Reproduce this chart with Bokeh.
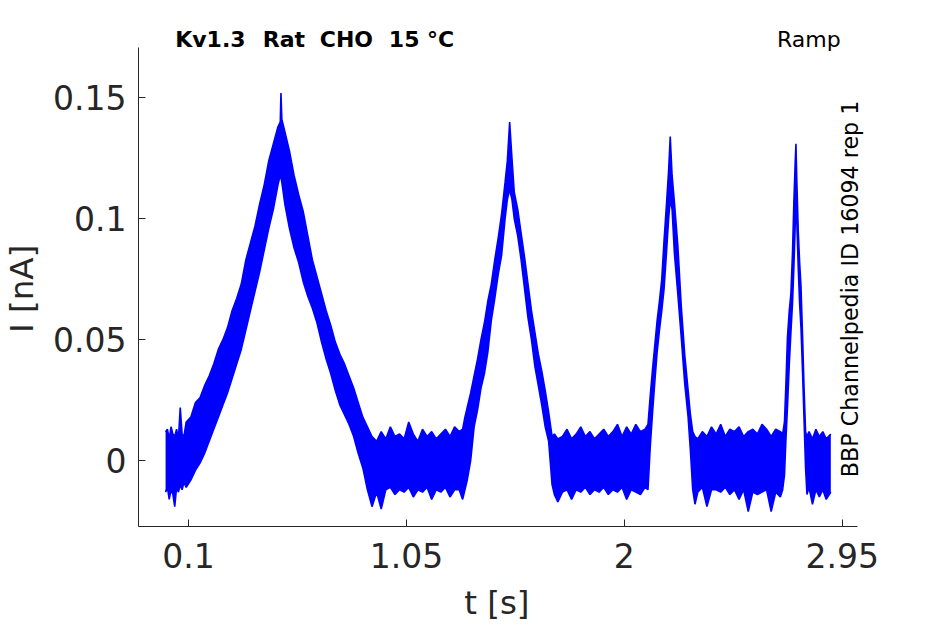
import math
from bokeh.plotting import figure
from bokeh.models import Range1d, Label, FixedTicker, LinearAxis
from bokeh.embed import file_html
from bokeh.resources import INLINE

# ---- data (time in s, current envelope in nA) ----
# baseline before first ramp
tA = [0.000, 0.008, 0.016, 0.024, 0.032, 0.040, 0.048, 0.056, 0.064, 0.072, 0.080]
hiA = [0.012, 0.013, 0.009, 0.014, 0.011, 0.010, 0.013, 0.009, 0.022, 0.011, 0.010]
loA = [-0.013, -0.011, -0.016, -0.012, -0.014, -0.019, -0.011, -0.013, -0.010, -0.012, -0.009]

# ramp 1 (slow)
tB = [0.090, 0.110, 0.130, 0.150, 0.170, 0.190, 0.210, 0.230, 0.250, 0.270, 0.290, 0.310,
      0.330, 0.350, 0.370, 0.390, 0.410, 0.430, 0.450, 0.470, 0.490, 0.500, 0.503, 0.507,
      0.520, 0.540, 0.560, 0.580, 0.600, 0.620, 0.640, 0.660, 0.680, 0.700, 0.720, 0.740,
      0.760, 0.780, 0.800, 0.820, 0.840, 0.860, 0.880]
hiB = [0.016, 0.018, 0.024, 0.026, 0.031, 0.035, 0.040, 0.046, 0.050, 0.055, 0.062, 0.067,
       0.073, 0.083, 0.090, 0.097, 0.106, 0.114, 0.124, 0.131, 0.138, 0.140, 0.152, 0.141,
       0.136, 0.128, 0.118, 0.110, 0.103, 0.093, 0.083, 0.076, 0.069, 0.062, 0.056, 0.049,
       0.044, 0.040, 0.035, 0.030, 0.024, 0.018, 0.014]
loB = [-0.011, -0.008, -0.004, -0.001, 0.003, 0.008, 0.013, 0.018, 0.023, 0.028, 0.034, 0.040,
       0.046, 0.054, 0.062, 0.070, 0.078, 0.087, 0.096, 0.104, 0.114, 0.118, 0.117, 0.115,
       0.106, 0.096, 0.088, 0.082, 0.074, 0.068, 0.063, 0.057, 0.049, 0.042, 0.036, 0.029,
       0.023, 0.019, 0.015, 0.010, 0.003, -0.003, -0.012]

# baseline
tC = [0.900, 0.920, 0.940, 0.960, 0.980, 1.000, 1.020, 1.040, 1.060, 1.080, 1.100,
      1.120, 1.140, 1.160, 1.180, 1.200, 1.220, 1.240, 1.260, 1.280, 1.295]
hiC = [0.010, 0.008, 0.012, 0.009, 0.014, 0.010, 0.011, 0.009, 0.016, 0.011, 0.008,
       0.013, 0.010, 0.012, 0.009, 0.011, 0.013, 0.010, 0.014, 0.012, 0.013]
loC = [-0.019, -0.013, -0.020, -0.012, -0.011, -0.014, -0.012, -0.013, -0.011, -0.015, -0.012,
       -0.013, -0.011, -0.016, -0.012, -0.013, -0.011, -0.015, -0.012, -0.012, -0.016]

# ramp 2
tD = [1.305, 1.315, 1.330, 1.345, 1.360, 1.375, 1.390, 1.405, 1.420, 1.435, 1.450, 1.465,
      1.480, 1.490, 1.500, 1.510, 1.520, 1.535, 1.550, 1.565, 1.580, 1.595, 1.610, 1.625,
      1.640, 1.655, 1.670, 1.685, 1.695]
hiD = [0.018, 0.022, 0.028, 0.035, 0.042, 0.050, 0.057, 0.066, 0.073, 0.083, 0.092, 0.102,
       0.115, 0.124, 0.140, 0.125, 0.111, 0.104, 0.094, 0.084, 0.073, 0.062, 0.053, 0.044,
       0.037, 0.029, 0.020, 0.010, 0.011]
loD = [-0.012, -0.008, 0.000, 0.014, 0.021, 0.030, 0.036, 0.045, 0.058, 0.067, 0.077, 0.085,
       0.100, 0.108, 0.112, 0.108, 0.100, 0.093, 0.083, 0.071, 0.059, 0.050, 0.039, 0.031,
       0.023, 0.014, 0.008, -0.010, -0.014]

# baseline
tE = [1.710, 1.730, 1.750, 1.770, 1.790, 1.810, 1.830, 1.850, 1.870, 1.890,
      1.910, 1.930, 1.950, 1.970, 1.990, 2.010, 2.030, 2.050, 2.070, 2.090]
hiE = [0.009, 0.010, 0.013, 0.009, 0.011, 0.014, 0.010, 0.012, 0.009, 0.011,
       0.013, 0.010, 0.012, 0.015, 0.010, 0.014, 0.011, 0.015, 0.012, 0.013]
loE = [-0.017, -0.013, -0.012, -0.016, -0.012, -0.013, -0.011, -0.014, -0.012, -0.013,
       -0.011, -0.014, -0.012, -0.013, -0.011, -0.016, -0.012, -0.013, -0.014, -0.011]

# ramp 3
tF = [2.103, 2.113, 2.123, 2.133, 2.143, 2.153, 2.163, 2.173, 2.183, 2.193, 2.200,
      2.208, 2.218, 2.233, 2.248, 2.263, 2.278, 2.288, 2.298, 2.308]
hiF = [0.015, 0.027, 0.038, 0.048, 0.058, 0.066, 0.075, 0.091, 0.105, 0.120, 0.134,
       0.118, 0.107, 0.089, 0.064, 0.044, 0.029, 0.019, 0.012, 0.010]
loF = [-0.012, 0.006, 0.020, 0.033, 0.045, 0.054, 0.062, 0.071, 0.085, 0.100, 0.108,
       0.104, 0.086, 0.069, 0.051, 0.032, 0.018, 0.004, -0.012, -0.018]

# baseline
tG = [2.320, 2.340, 2.360, 2.380, 2.400, 2.420, 2.440, 2.460, 2.480, 2.500,
      2.520, 2.540, 2.560, 2.580, 2.600, 2.620, 2.640, 2.660, 2.680]
hiG = [0.009, 0.012, 0.010, 0.014, 0.011, 0.015, 0.010, 0.013, 0.012, 0.014,
       0.010, 0.012, 0.013, 0.011, 0.015, 0.013, 0.010, 0.013, 0.012]
loG = [-0.013, -0.011, -0.019, -0.012, -0.012, -0.013, -0.011, -0.014, -0.012, -0.016,
       -0.012, -0.021, -0.013, -0.014, -0.013, -0.012, -0.021, -0.013, -0.015]

# ramp 4 (fast)
tH = [2.690, 2.698, 2.704, 2.711, 2.719, 2.726, 2.733, 2.739, 2.745, 2.748, 2.752,
      2.758, 2.764, 2.770, 2.777, 2.783, 2.790, 2.796]
hiH = [0.011, 0.016, 0.031, 0.051, 0.062, 0.069, 0.086, 0.107, 0.124, 0.131, 0.115,
       0.095, 0.082, 0.072, 0.051, 0.031, 0.012, 0.010]
loH = [-0.012, -0.006, 0.008, 0.022, 0.040, 0.053, 0.065, 0.080, 0.098, 0.100, 0.098,
       0.080, 0.065, 0.055, 0.036, 0.018, -0.003, -0.014]

# final baseline
tI = [2.805, 2.820, 2.835, 2.850, 2.865, 2.880, 2.900]
hiI = [0.012, 0.009, 0.013, 0.010, 0.012, 0.009, 0.011]
loI = [-0.011, -0.018, -0.012, -0.015, -0.012, -0.016, -0.013]

x_ticks = [0.1, 1.05, 2, 2.95]
x_tick_labels = ["0.1", "1.05", "2", "2.95"]
y_ticks = [0, 0.05, 0.1, 0.15]
y_tick_labels = ["0", "0.05", "0.1", "0.15"]

# title words (the reference separates them with double spaces)
title_words = ["Kv1.3", "Rat", "CHO", "15 °C"]
title_word_t = [0.042, 0.4237, 0.6723, 0.9733]

t_all = tA + tB + tC + tD + tE + tF + tG + tH + tI
hi_all = hiA + hiB + hiC + hiD + hiE + hiF + hiG + hiH + hiI
lo_all = loA + loB + loC + loD + loE + loF + loG + loH + loI

BLUE = "#0000ff"
DARK = "#262626"
FONT = "DejaVu Sans"

# axes box (as drawn) and the slightly larger frame that also holds the texts
X_AX = (-0.118, 3.015)
Y_AX = (-0.0272, 0.1709)
X_LABEL_AT = 1.4443   # centre of the "t [s]" label on the t axis of the box
Y_LABEL_AT = 0.0710   # centre of the "I [nA]" label on the I axis of the box

p = figure(width=945, height=624, output_backend="svg", toolbar_location=None,
           x_range=Range1d(X_AX[0], 3.1166), y_range=Range1d(Y_AX[0], 0.1840),
           min_border_left=138, min_border_right=65, min_border_top=15,
           min_border_bottom=98)

p.varea(x=t_all, y1=lo_all, y2=hi_all, fill_color=BLUE, fill_alpha=1.0)
p.line(t_all, hi_all, line_color=BLUE, line_width=1.6)
p.line(t_all, lo_all, line_color=BLUE, line_width=1.6)

p.xgrid.visible = False
p.ygrid.visible = False
p.outline_line_color = None
p.background_fill_color = "white"
p.border_fill_color = "white"

p.xaxis.bounds = X_AX
p.yaxis.bounds = Y_AX
p.xaxis.ticker = FixedTicker(ticks=x_ticks)
p.yaxis.ticker = FixedTicker(ticks=y_ticks)
p.xaxis.major_label_overrides = {k: v for k, v in zip(x_ticks, x_tick_labels)}
p.yaxis.major_label_overrides = {k: v for k, v in zip(y_ticks, y_tick_labels)}

for ax in (p.xaxis[0], p.yaxis[0]):
    ax.axis_line_color = DARK
    ax.axis_line_width = 1
    ax.major_tick_line_color = DARK
    ax.major_tick_in = 7
    ax.major_tick_out = 0
    ax.minor_tick_line_color = None
    ax.major_label_text_font = FONT
    ax.major_label_text_font_size = "33px"
    ax.major_label_text_color = DARK

p.xaxis[0].major_label_standoff = 16
p.yaxis[0].major_label_standoff = 12

# axis titles, drawn as the single label of an outer, line-less axis so that they
# sit centred on the drawn box rather than on the enlarged frame
def label_axis(pos, text, standoff, orientation):
    ax = LinearAxis(ticker=FixedTicker(ticks=[pos]),
                    major_label_overrides={pos: text},
                    axis_line_color=None, major_tick_line_color=None,
                    minor_tick_line_color=None, major_tick_in=0, major_tick_out=0,
                    major_label_standoff=standoff,
                    major_label_orientation=orientation,
                    major_label_text_font=FONT, major_label_text_font_size="32.5px",
                    major_label_text_color=DARK)
    return ax

p.add_layout(label_axis(X_LABEL_AT, "t [s]", 13, "horizontal"), "below")
p.add_layout(label_axis(Y_LABEL_AT, "I [nA]", 9, "vertical"), "left")

TEXT_Y = 0.1742
for word, tw in zip(title_words, title_word_t):
    p.add_layout(Label(x=tw, y=TEXT_Y, text=word, text_font=FONT,
                       text_font_size="22px", text_font_style="bold", text_color="black",
                       text_baseline="alphabetic", text_align="left"))
p.add_layout(Label(x=2.943, y=TEXT_Y, text="Ramp", text_font=FONT,
                   text_font_size="22px", text_color="black",
                   text_baseline="alphabetic", text_align="right"))
p.add_layout(Label(x=2.982, y=-0.0068, text="BBP Channelpedia ID 16094 rep 1",
                   text_font=FONT, text_font_size="22.2px", text_color="black",
                   angle=math.pi / 2, text_baseline="middle", text_align="left"))

open("out.html", "w").write(file_html(p, INLINE))
